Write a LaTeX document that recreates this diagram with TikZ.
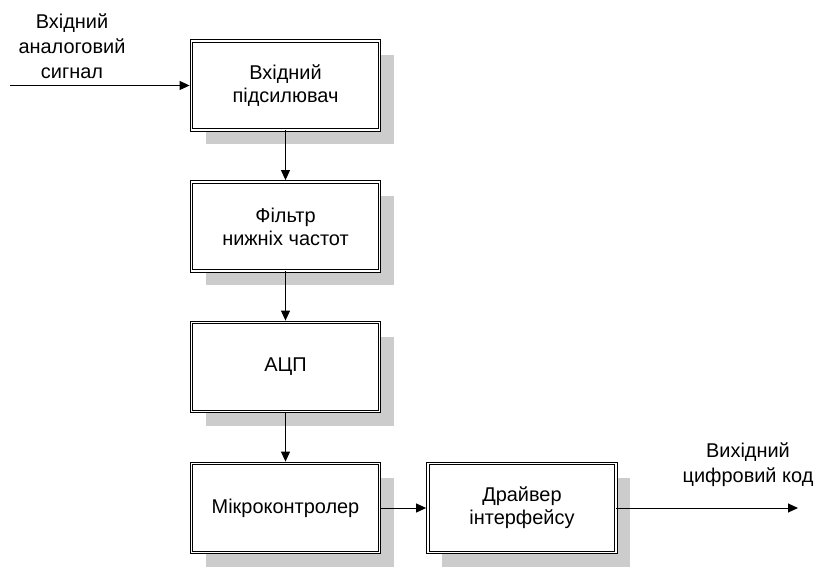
\documentclass[tikz,border=0pt]{standalone}
\usepackage{fontspec}
\setmainfont{Liberation Sans}
\usetikzlibrary{shadows,arrows.meta}
\tikzset{
  blk/.style={draw=black, line width=0.8bp, double=white, double distance=1.8bp,
    fill=white, minimum width=188bp, minimum height=89bp, align=center, inner sep=0pt,
    font=\fontsize{20}{23}\selectfont,
    drop shadow={shadow xshift=14bp, shadow yshift=-14bp, fill=black!20, opacity=1}},
  lbl/.style={align=center, inner sep=0pt, font=\fontsize{20}{25}\selectfont},
  conn/.style={line width=1bp, -{Triangle[length=10bp,width=9bp]}}
}
\begin{document}
\begin{tikzpicture}[x=1bp,y=-1bp]
\useasboundingbox (0,0) rectangle (816,567);
\node[blk] (amp) at (285.5,85.5) {Вхідний\\підсилювач};
\node[blk] (lpf) at (285.5,226.5) {Фільтр\\нижніх частот};
\node[blk] (adc) at (285.5,367) {АЦП};
\node[blk] (mcu) at (285.5,508) {Мікроконтролер};
\node[blk] (drv) at (522,508) {Драйвер\\інтерфейсу};
\node[lbl] (inlbl) at (72,46) {Вхідний\\аналоговий\\сигнал};
\node[lbl] (outlbl) at (748,465) {Вихідний\\цифровий код};
\coordinate (in) at (10,85.5);
\coordinate (out) at (798,508);
\draw[conn] (in) -- ([xshift=-1.5bp]amp.west);
\draw[conn] (amp.south) -- ([yshift=1.5bp]lpf.north);
\draw[conn] (lpf.south) -- ([yshift=1.5bp]adc.north);
\draw[conn] (adc.south) -- ([yshift=1.5bp]mcu.north);
\draw[conn] (mcu.east) -- ([xshift=-1.5bp]drv.west);
\draw[conn] (drv.east) -- (out);
\end{tikzpicture}
\end{document}
